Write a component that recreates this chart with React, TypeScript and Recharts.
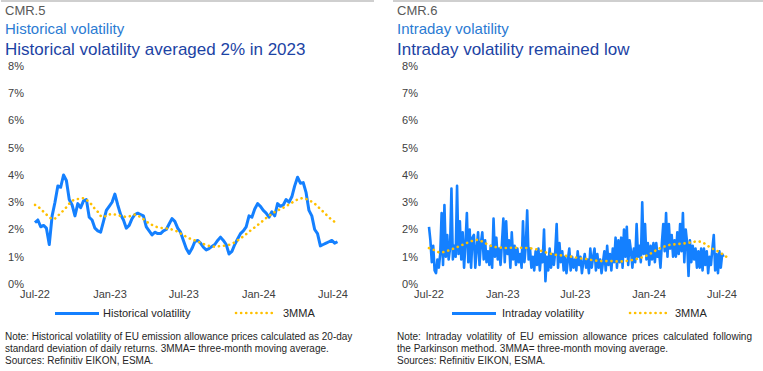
import { LineChart, Line, XAxis, YAxis } from "recharts";

// weekly samples of the 20-day historical volatility (%), from 1 Jul 2022
const histVol = [
  2.25, 2.35, 2.1, 2.15, 2.05, 1.45, 2.5, 3.0, 3.6, 3.55,
  4.0, 3.8, 3.1, 2.9, 2.5, 2.95, 2.8, 3.05, 3.1, 2.45,
  2.35, 2.05, 1.95, 1.9, 2.3, 2.7, 2.85, 3.0, 3.3, 2.9,
  2.55, 2.35, 2.05, 2.15, 2.4, 2.55, 2.6, 2.55, 2.5, 2.1,
  1.95, 1.8, 1.9, 1.85, 1.85, 1.95, 2.0, 2.2, 2.4, 2.3,
  2.05, 1.9, 1.6, 1.3, 1.12, 1.3, 1.55, 1.6, 1.5, 1.35,
  1.25, 1.3, 1.38, 1.45, 1.6, 1.72, 1.6, 1.45, 1.1, 1.2,
  1.45, 1.65, 1.85, 1.95, 2.1, 2.5, 2.45, 2.75, 2.95, 2.85,
  2.7, 2.6, 2.45, 2.65, 2.5, 2.95, 2.85, 2.9, 3.1, 3.0,
  3.2, 3.6, 3.92, 3.7, 3.72, 3.35, 2.7, 2.5, 2.0, 1.85,
  1.4, 1.45, 1.5, 1.55, 1.6, 1.5, 1.55,
];

const histMA = [
  2.9, 2.85, 2.75, 2.65, 2.55, 2.45, 2.38, 2.4, 2.5, 2.6,
  2.7, 2.82, 2.95, 3.05, 3.1, 3.12, 3.14, 3.15, 3.1, 3.0,
  2.9, 2.75, 2.65, 2.5, 2.45, 2.5, 2.55, 2.57, 2.55, 2.53,
  2.5, 2.48, 2.46, 2.48, 2.52, 2.55, 2.52, 2.45, 2.38, 2.3,
  2.22, 2.17, 2.12, 2.08, 2.06, 2.05, 2.04, 2.03, 2.0, 1.97,
  1.92, 1.85, 1.8, 1.73, 1.68, 1.64, 1.6, 1.56, 1.52, 1.47,
  1.43, 1.4, 1.38, 1.37, 1.38, 1.39, 1.4, 1.42, 1.44, 1.48,
  1.53, 1.6, 1.67, 1.75, 1.83, 1.92, 2.0, 2.08, 2.16, 2.25,
  2.33, 2.42, 2.5, 2.57, 2.64, 2.7, 2.75, 2.8, 2.86, 2.92,
  2.98, 3.05, 3.1, 3.14, 3.15, 3.12, 3.08, 3.02, 2.95, 2.85,
  2.75, 2.65, 2.55, 2.45, 2.35, 2.28, 2.2,
];

// twice-weekly samples of intraday (Parkinson) volatility (%)
const intradayVol = [
  2.1, 1.6, 0.8, 1.4, 0.5, 0.4, 0.9, 0.6,
  1.1, 2.6, 0.7, 2.9, 1.0, 1.8, 0.9, 1.3,
  3.5, 0.9, 1.4, 1.0, 3.6, 1.1, 2.3, 0.9,
  1.9, 0.6, 1.5, 2.6, 0.8, 2.0, 0.6, 1.7,
  1.8, 0.6, 1.3, 1.9, 0.7, 1.5, 1.9, 0.9,
  1.6, 0.8, 1.2, 0.7, 1.4, 0.6, 2.4, 1.0,
  1.7, 0.9, 1.3, 0.7, 1.5, 2.4, 0.8, 2.3,
  1.1, 1.6, 0.6, 1.9, 0.9, 1.4, 0.7, 1.3,
  0.8, 1.1, 0.6, 2.3, 0.8, 1.4, 2.7, 0.9,
  1.3, 0.6, 1.0, 0.5, 1.2, 0.7, 1.3, 0.5,
  1.1, 0.8, 2.0, 0.1, 1.0, 0.5, 1.3, 0.6,
  1.1, 0.7, 1.2, 2.2, 0.6, 1.5, 0.8, 1.2,
  0.5, 1.0, 0.4, 0.9, 1.3, 0.5, 1.0, 0.6,
  0.9, 0.5, 1.2, 0.7, 1.0, 0.4, 0.8, 1.1,
  0.6, 0.9, 0.4, 1.3, 0.6, 1.0, 1.3, 0.5,
  1.1, 0.6, 0.9, 0.4, 0.8, 1.2, 0.5, 1.4,
  0.7, 1.1, 0.5, 1.3, 0.8, 1.7, 0.6, 1.6,
  0.8, 1.7, 0.6, 2.0, 1.0, 2.1, 0.7, 1.6,
  1.2, 0.6, 1.3, 0.8, 2.2, 1.0, 1.4, 0.8,
  3.0, 1.1, 2.2, 0.9, 1.5, 0.7, 1.4, 0.9,
  1.5, 0.8, 1.5, 1.0, 1.2, 0.6, 1.5, 2.2,
  1.2, 2.6, 1.0, 2.2, 1.3, 1.8, 1.0, 1.6,
  1.0, 1.9, 1.1, 2.2, 1.2, 2.6, 0.8, 2.0,
  1.5, 0.3, 1.6, 0.8, 1.4, 0.9, 1.3, 0.6,
  1.2, 0.6, 1.3, 0.5, 1.3, 0.7, 1.2, 0.4,
  1.0, 0.7, 1.3, 1.8, 0.5, 1.1, 0.4, 1.2,
  0.6, 1.1, 1.0,
];

// weekly samples of the intraday 3MMA (%)
const intradayMA = [
  1.32, 1.28, 1.24, 1.18, 1.15, 1.17, 1.2, 1.23, 1.27, 1.31,
  1.35, 1.4, 1.44, 1.48, 1.53, 1.57, 1.6, 1.62, 1.6, 1.56,
  1.5, 1.45, 1.4, 1.37, 1.35, 1.34, 1.33, 1.32, 1.32, 1.33,
  1.33, 1.33, 1.33, 1.33, 1.33, 1.32, 1.31, 1.3, 1.28, 1.26,
  1.22, 1.18, 1.15, 1.12, 1.09, 1.07, 1.06, 1.05, 1.04, 1.03,
  1.01, 1.0, 0.98, 0.96, 0.94, 0.93, 0.92, 0.9, 0.88, 0.87,
  0.85, 0.84, 0.84, 0.84, 0.84, 0.84, 0.84, 0.83, 0.83, 0.83,
  0.84, 0.85, 0.87, 0.9, 0.92, 0.95, 0.98, 1.02, 1.06, 1.12,
  1.18, 1.24, 1.3, 1.34, 1.38, 1.42, 1.44, 1.45, 1.46, 1.47,
  1.48, 1.49, 1.5, 1.52, 1.54, 1.56, 1.56, 1.55, 1.5, 1.42,
  1.36, 1.3, 1.25, 1.2, 1.14, 1.06, 1.0,
];

// days since 1 Jul 2022
const tickDays = [0, 184, 365, 549, 731];
const tickLabels = ["Jul-22", "Jan-23", "Jul-23", "Jan-24", "Jul-24"];
const yTicks = [0, 1, 2, 3, 4, 5, 6, 7, 8];

const BLUE = "#1480ff";
const GOLD = "#ffc000";
const FONT = "'Liberation Sans', Arial, sans-serif";

const histRows = histVol.map((v, i) => ({ day: i * 7, vol: v, ma: histMA[i] }));
const intraRows = intradayVol.map((v, k) => ({ day: k * 3.5, vol: v }));
const intraMaRows = intradayMA.map((v, w) => ({ day: w * 7, ma: v }));

const tickStyle = { fill: "#404040", fontSize: 11, fontFamily: FONT };

interface PanelProps {
  left: number;
  width: number;
  plotLeft: number;
  plotRight: number;
  code: string;
  subtitle: string;
  title: string;
  seriesName: string;
  volRows: { day: number; vol: number }[];
  maRows: { day: number; ma: number }[];
  volWidth: number;
  legend: { line: number; text: number; dots: number; ma: number };
  notes: string[];
  justifyFirst?: boolean;
}

function Panel(p: PanelProps) {
  return (
    <div style={{ position: "absolute", left: p.left, top: 0, width: p.width, height: 371, fontFamily: FONT }}>
      <div style={{ position: "absolute", left: 1, top: 0, width: p.width - 1, height: 1.5, background: "#cfcfcf" }} />
      <div style={{ position: "absolute", left: 5, top: 4, fontSize: 13, lineHeight: "13px", color: "#595959" }}>{p.code}</div>
      <div style={{ position: "absolute", left: 5, top: 21, fontSize: 15, lineHeight: "15px", color: "#2b7bd3" }}>{p.subtitle}</div>
      <div style={{ position: "absolute", left: 5, top: 40.5, fontSize: 17, lineHeight: "17px", color: "#1c43a4", whiteSpace: "nowrap" }}>{p.title}</div>

      <div style={{ position: "absolute", left: 0, top: 0 }}>
        <LineChart
          width={p.width}
          height={371}
          margin={{ top: 66, right: p.width - p.plotRight, bottom: 67, left: 0 }}
        >
          <XAxis
            type="number"
            dataKey="day"
            domain={[0, 742]}
            ticks={tickDays}
            tickFormatter={(d: number) => tickLabels[tickDays.indexOf(d)]}
            axisLine={false}
            tickLine={false}
            tickSize={0}
            tickMargin={6}
            height={20}
            tick={tickStyle}
            interval={0}
          />
          <YAxis
            type="number"
            domain={[0, 8]}
            ticks={yTicks}
            tickFormatter={(v: number) => `${v}%`}
            axisLine={false}
            tickLine={false}
            tickSize={0}
            tickMargin={11}
            width={p.plotLeft}
            tick={tickStyle}
            interval={0}
          />
          <Line
            data={p.volRows}
            dataKey="vol"
            type="linear"
            stroke={BLUE}
            strokeWidth={p.volWidth}
            strokeLinejoin="round"
            dot={false}
            isAnimationActive={false}
          />
          <Line
            data={p.maRows}
            dataKey="ma"
            type="linear"
            stroke={GOLD}
            strokeWidth={2.6}
            strokeDasharray="0.1 5"
            strokeLinecap="round"
            dot={false}
            isAnimationActive={false}
          />
        </LineChart>
      </div>

      {/* legend */}
      <div style={{ position: "absolute", left: p.legend.line, top: 312, width: 44, height: 2.5, background: BLUE }} />
      <div style={{ position: "absolute", left: p.legend.text, top: 307, fontSize: 11, lineHeight: "12px", color: "#262626", whiteSpace: "nowrap" }}>
        {p.seriesName}
      </div>
      <svg style={{ position: "absolute", left: p.legend.dots, top: 310 }} width={40} height={6}>
        <line x1={2} y1={3} x2={38} y2={3} stroke={GOLD} strokeWidth={2.6} strokeDasharray="0.1 5" strokeLinecap="round" />
      </svg>
      <div style={{ position: "absolute", left: p.legend.ma, top: 307, fontSize: 11, lineHeight: "12px", color: "#262626" }}>3MMA</div>

      {/* notes */}
      <div style={{ position: "absolute", left: 5, top: 330.5, fontSize: 10, lineHeight: "12px", color: "#262626" }}>
        {p.notes.map((n, i) => (
          <div
            key={i}
            style={{
              whiteSpace: "nowrap",
              width: p.justifyFirst && i === 0 ? 355 : undefined,
              textAlign: p.justifyFirst && i === 0 ? "justify" : "left",
              textAlignLast: p.justifyFirst && i === 0 ? "justify" : "auto",
            }}
          >
            {n}
          </div>
        ))}
      </div>
    </div>
  );
}

export default function App() {
  return (
    <div style={{ position: "absolute", left: 0, top: 0, width: 763, height: 371, background: "#fff", overflow: "hidden" }}>
      <Panel
        left={0}
        width={374}
        plotLeft={35}
        plotRight={337.5}
        code="CMR.5"
        subtitle="Historical volatility"
        title="Historical volatility averaged 2% in 2023"
        seriesName="Historical volatility"
        volRows={histRows}
        maRows={histRows}
        volWidth={3}
        legend={{ line: 55, text: 103, dots: 234, ma: 283 }}
        notes={[
          "Note: Historical volatility of EU emission allowance prices calculated as 20-day",
          "standard deviation of daily returns. 3MMA= three-month moving average.",
          "Sources: Refinitiv EIKON, ESMA.",
        ]}
      />
      <Panel
        left={392}
        width={371}
        plotLeft={37}
        plotRight={334.4}
        code="CMR.6"
        subtitle="Intraday volatility"
        title="Intraday volatility remained low"
        seriesName="Intraday volatility"
        volRows={intraRows}
        maRows={intraMaRows}
        volWidth={2.6}
        legend={{ line: 60, text: 110, dots: 236, ma: 283 }}
        notes={[
          "Note: Intraday volatility of EU emission allowance prices calculated following",
          "the Parkinson method. 3MMA= three-month moving average.",
          "Sources: Refinitiv EIKON, ESMA.",
        ]}
        justifyFirst
      />
    </div>
  );
}
